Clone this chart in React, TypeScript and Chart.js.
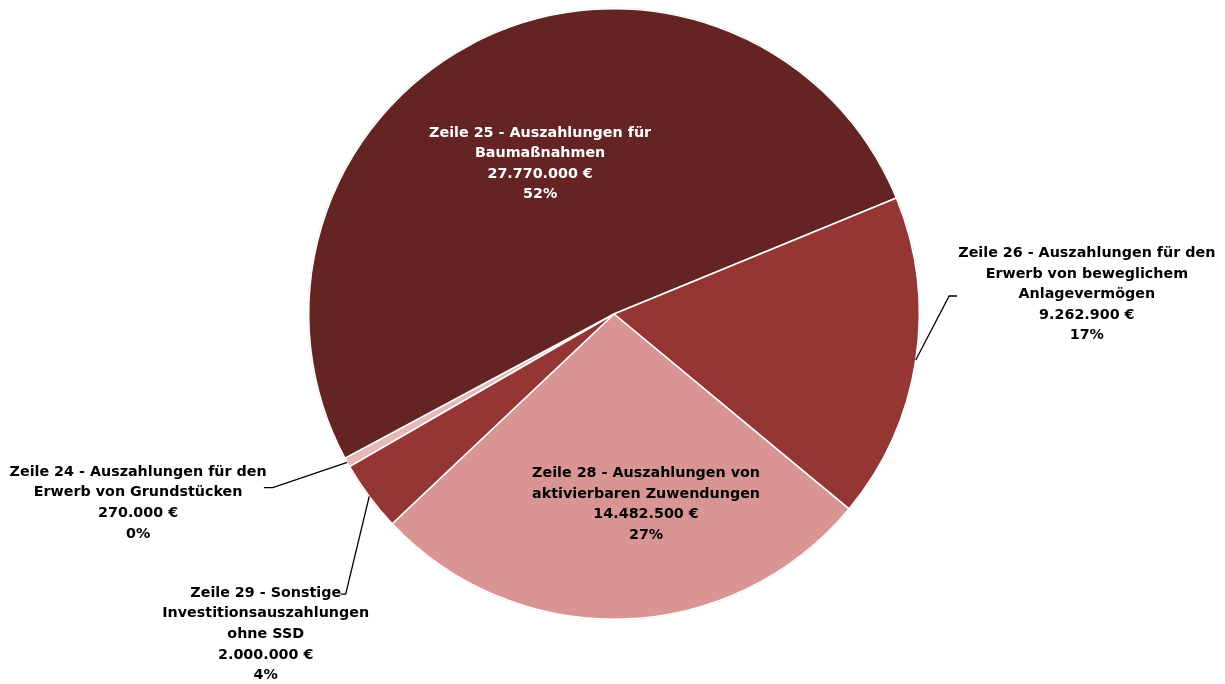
import React, { useEffect, useRef } from "react";
import { Chart, registerables } from "chart.js";

Chart.register(...registerables);

const categories: string[][] = [
  ["Zeile 24 - Auszahlungen für den", "Erwerb von Grundstücken"],
  ["Zeile 25 - Auszahlungen für", "Baumaßnahmen"],
  ["Zeile 26 - Auszahlungen für den", "Erwerb von beweglichem", "Anlagevermögen"],
  ["Zeile 28 - Auszahlungen von", "aktivierbaren Zuwendungen"],
  ["Zeile 29 - Sonstige", "Investitionsauszahlungen", "ohne SSD"],
];
const values: number[] = [270000, 27770000, 9262900, 14482500, 2000000];
const percentLabels: string[] = ["0%", "52%", "17%", "27%", "4%"];
const colors: string[] = ["#E6B9B8", "#632423", "#943634", "#D99594", "#943634"];
const textColors: string[] = ["#000000", "#FFFFFF", "#000000", "#000000", "#000000"];

// label block centre, relative to pie centre, in units of radius
const labelPos: [number, number][] = [
  [-1.559, 0.619],
  [-0.242, -0.492],
  [1.549, -0.064],
  [0.105, 0.623],
  [-1.141, 1.049],
];
// leader line points (after the arc edge point), relative to centre in radius units
const leaders: ([number, number][] | null)[] = [
  [[-1.118, 0.569], [-1.147, 0.569]],
  null,
  [[1.098, -0.059], [1.124, -0.059]],
  null,
  [[-0.879, 0.918], [-0.895, 0.918]],
];

const fmt = (v: number) =>
  String(v).replace(/\B(?=(\d{3})+(?!\d))/g, ".") + " €";

const FONT = "bold 14.3px 'DejaVu Sans', sans-serif";
const LINE_H = 20.6;

const labelPlugin = {
  id: "pieLabels",
  afterDatasetsDraw(chart: any) {
    const ctx = chart.ctx as CanvasRenderingContext2D;
    const meta = chart.getDatasetMeta(0);
    ctx.save();
    meta.data.forEach((arc: any, i: number) => {
      const { x, y, startAngle, endAngle, outerRadius } = arc.getProps(
        ["x", "y", "startAngle", "endAngle", "outerRadius"],
        true
      );
      const r = outerRadius;
      const mid = (startAngle + endAngle) / 2;
      const lp = leaders[i];
      if (lp) {
        ctx.beginPath();
        ctx.strokeStyle = "#000";
        ctx.lineWidth = 1.3;
        ctx.moveTo(x + Math.cos(mid) * r, y + Math.sin(mid) * r);
        lp.forEach(([dx, dy]) => ctx.lineTo(x + dx * r, y + dy * r));
        ctx.stroke();
      }
      const lines = [...categories[i], fmt(values[i]), percentLabels[i]];
      const cx = x + labelPos[i][0] * r;
      const cy = y + labelPos[i][1] * r;
      ctx.font = FONT;
      ctx.fillStyle = textColors[i];
      ctx.textAlign = "center";
      ctx.textBaseline = "middle";
      const top = cy - ((lines.length - 1) * LINE_H) / 2;
      lines.forEach((t, k) => ctx.fillText(t, cx, top + k * LINE_H));
    });
    ctx.restore();
  },
};

const shadowPlugin = {
  id: "pieShadow",
  beforeDatasetsDraw(chart: any) {
    const ctx = chart.ctx as CanvasRenderingContext2D;
    const arc = chart.getDatasetMeta(0).data[0];
    if (!arc) return;
    const { x, y, outerRadius } = arc.getProps(["x", "y", "outerRadius"], true);
    ctx.save();
    ctx.beginPath();
    ctx.arc(x, y, outerRadius + 1, 0, Math.PI * 2);
    ctx.fillStyle = "#d8d8d8";
    ctx.fill();
    ctx.restore();
  },
};

export default function App() {
  const ref = useRef<HTMLCanvasElement>(null);
  useEffect(() => {
    if (!ref.current) return;
    const chart = new Chart(ref.current, {
      type: "pie",
      data: {
        labels: categories.map((c) => c.join(" ")),
        datasets: [
          {
            data: values,
            backgroundColor: colors,
            borderColor: "#FFFFFF",
            borderWidth: 1.5,
          },
        ],
      },
      options: {
        animation: false,
        responsive: true,
        maintainAspectRatio: false,
        rotation: 240,
        layout: { padding: { top: 8, bottom: 64, left: 3, right: 0 } },
        plugins: {
          legend: { display: false },
          tooltip: { enabled: false },
          title: { display: false },
        },
      },
      plugins: [shadowPlugin, labelPlugin],
    });
    return () => chart.destroy();
  }, []);
  return (
    <div style={{ position: "fixed", left: 0, top: 0, width: 1225, height: 684, background: "#fff" }}>
      <canvas ref={ref} />
    </div>
  );
}
